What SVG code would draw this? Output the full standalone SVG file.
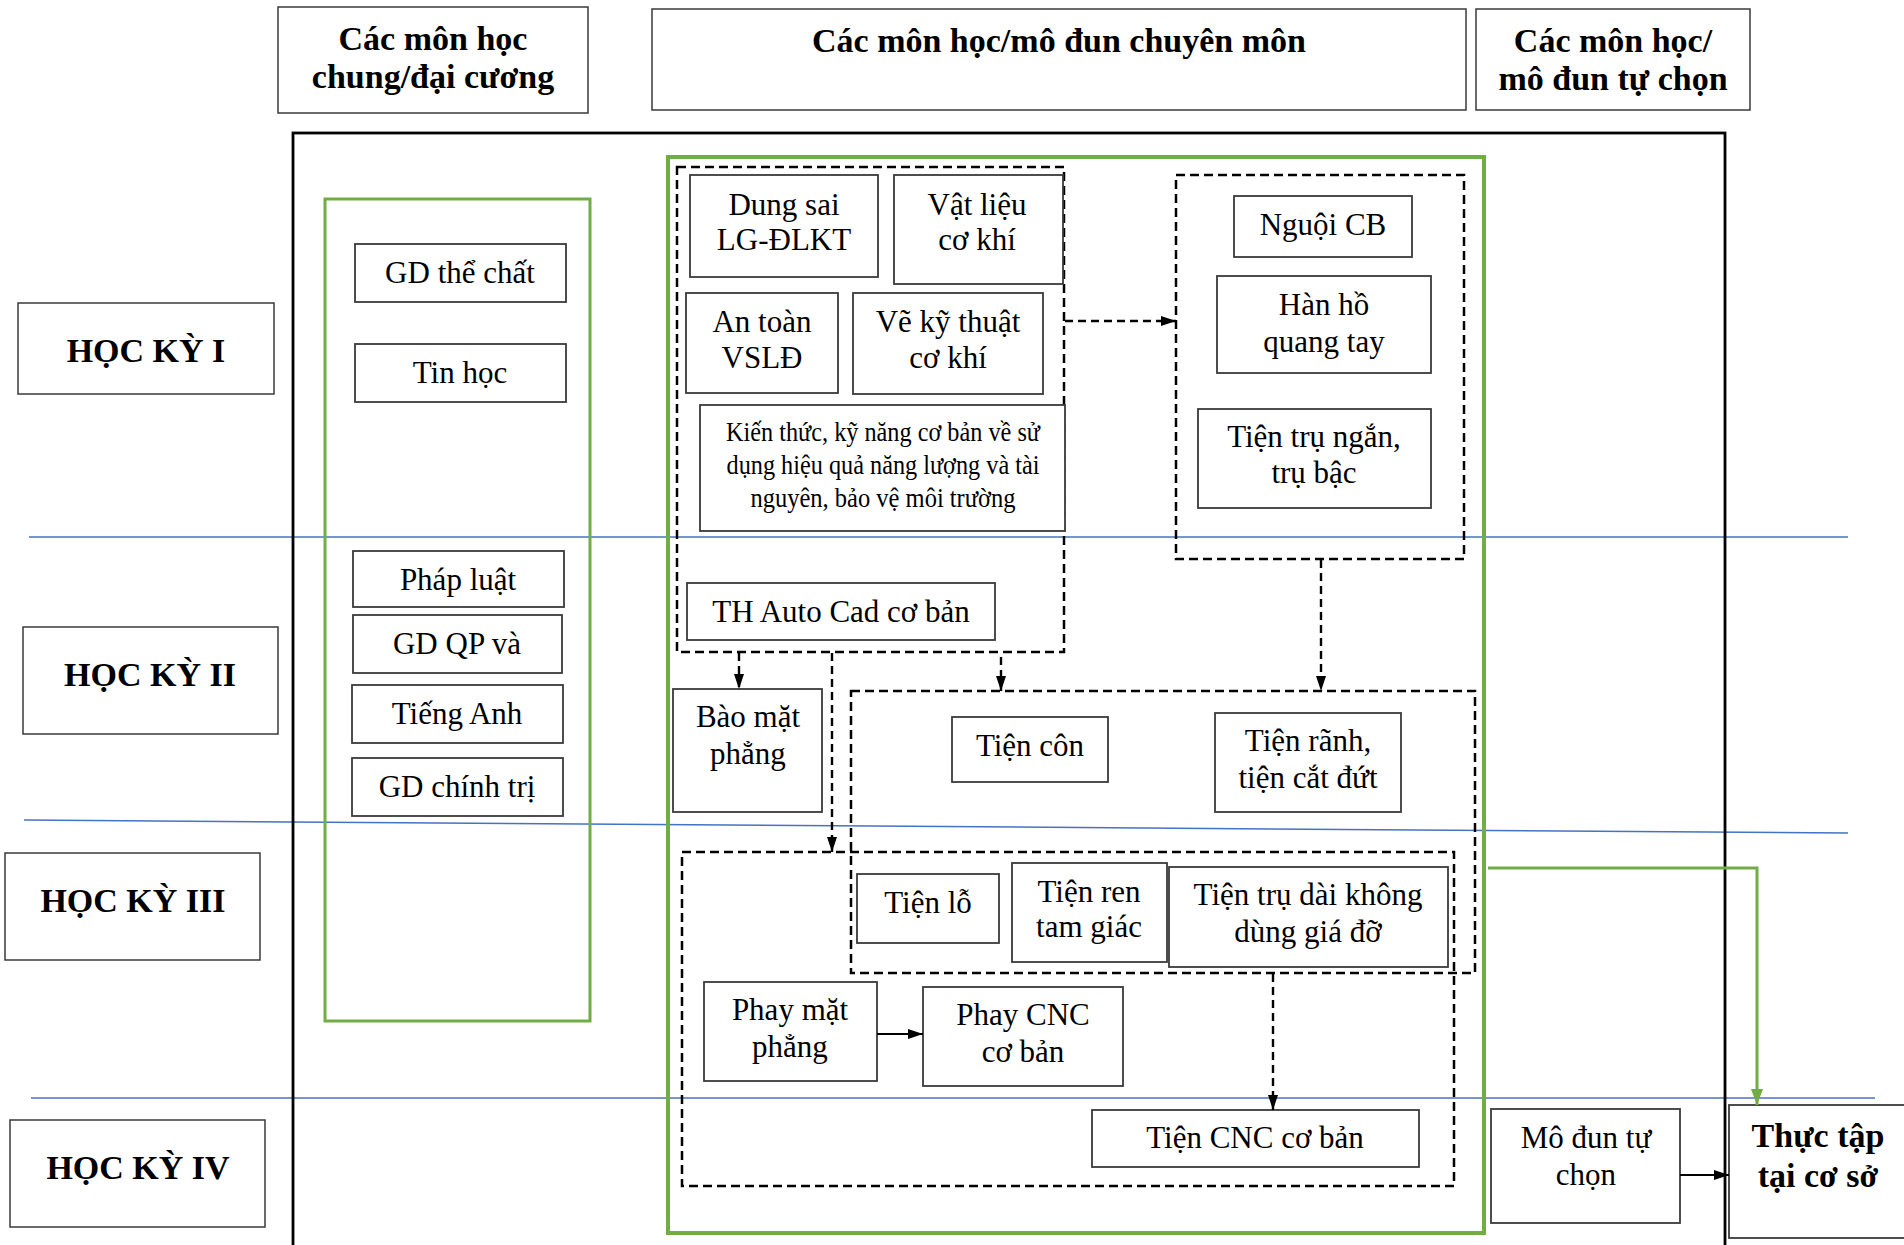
<svg xmlns="http://www.w3.org/2000/svg" width="1904" height="1245" viewBox="0 0 1904 1245">
<defs>
<style>
.hd{fill:#fff;stroke:#3a3a3a;stroke-width:1.5}
.nd{fill:#fff;stroke:#3a3a3a;stroke-width:1.8}
.t{font-family:"Liberation Serif","Times New Roman",serif;font-size:31px;fill:#000;text-anchor:middle}
.b{font-family:"Liberation Serif","Times New Roman",serif;font-size:34px;font-weight:bold;fill:#000;text-anchor:middle}
.k{font-family:"Liberation Serif","Times New Roman",serif;font-size:28px;fill:#000;text-anchor:middle}
.dash{fill:none;stroke:#000;stroke-width:2.5;stroke-dasharray:9 5}
.grn{fill:none;stroke:#70ad47}
.blue{stroke:#4472c4;stroke-width:1.5;fill:none}
.con{fill:none;stroke:#000;stroke-width:2.2}
.cond{fill:none;stroke:#000;stroke-width:2.4;stroke-dasharray:8 5}
</style>
<marker id="ah" viewBox="0 0 15 10" refX="15" refY="5" markerWidth="15" markerHeight="10" markerUnits="userSpaceOnUse" orient="auto">
<path d="M0,0 L15,5 L0,10 z" fill="#000"/>
</marker>
<marker id="ahg" viewBox="0 0 16 12" refX="16" refY="6" markerWidth="16" markerHeight="12" markerUnits="userSpaceOnUse" orient="auto">
<path d="M0,0 L16,6 L0,12 z" fill="#70ad47"/>
</marker>
</defs>
<rect width="1904" height="1245" fill="#fff"/>

<g id="semester-lines">
<line class="blue" x1="29" y1="537" x2="1848" y2="537"/>
<line class="blue" x1="24" y1="820" x2="1848" y2="833"/>
<line class="blue" x1="31" y1="1098" x2="1875" y2="1098"/>
</g>

<g id="frames">
<rect x="293" y="133" width="1432" height="1140" fill="none" stroke="#000" stroke-width="2.8"/>
<rect class="grn" x="325" y="199" width="265" height="822" stroke-width="3"/>
<rect class="grn" x="668" y="157" width="816" height="1076" stroke-width="4"/>
<rect class="dash" x="677" y="167" width="387" height="485"/>
<rect class="dash" x="1176" y="175" width="288" height="384"/>
<rect class="dash" x="851" y="691" width="624" height="282"/>
<rect class="dash" x="682" y="852" width="772" height="334"/>
</g>

<g id="header-chung"><rect class="hd" x="278" y="7" width="310" height="106"/><text class="b" x="433" y="50">Các môn học</text><text class="b" x="433" y="88">chung/đại cương</text></g>
<g id="header-chuyenmon"><rect class="hd" x="652" y="9" width="814" height="101"/><text class="b" x="1059" y="52">Các môn học/mô đun chuyên môn</text></g>
<g id="header-tuchon"><rect class="hd" x="1476" y="9" width="274" height="101"/><text class="b" x="1613" y="52">Các môn học/</text><text class="b" x="1613" y="90">mô đun tự chọn</text></g>

<g id="hk1"><rect class="hd" x="18" y="303" width="256" height="91"/><text class="b" x="146" y="362">HỌC KỲ I</text></g>
<g id="hk2"><rect class="hd" x="23" y="627" width="255" height="107"/><text class="b" x="150" y="686">HỌC KỲ II</text></g>
<g id="hk3"><rect class="hd" x="5" y="853" width="255" height="107"/><text class="b" x="133" y="912">HỌC KỲ III</text></g>
<g id="hk4"><rect class="hd" x="10" y="1120" width="255" height="107"/><text class="b" x="138" y="1179">HỌC KỲ IV</text></g>

<g id="gd-the-chat"><rect class="nd" x="355" y="244" width="211" height="58"/><text class="t" x="460" y="283">GD thể chất</text></g>
<g id="tin-hoc"><rect class="nd" x="355" y="344" width="211" height="58"/><text class="t" x="460" y="383">Tin học</text></g>
<g id="phap-luat"><rect class="nd" x="353" y="551" width="211" height="56"/><text class="t" x="458" y="590">Pháp luật</text></g>
<g id="gd-qp"><rect class="nd" x="353" y="615" width="209" height="58"/><text class="t" x="457" y="654">GD QP và</text></g>
<g id="tieng-anh"><rect class="nd" x="352" y="685" width="211" height="58"/><text class="t" x="457" y="724">Tiếng Anh</text></g>
<g id="gd-chinh-tri"><rect class="nd" x="352" y="758" width="211" height="58"/><text class="t" x="457" y="797">GD chính trị</text></g>

<g id="dung-sai"><rect class="nd" x="690" y="175" width="188" height="102"/><text class="t" x="784" y="215">Dung sai</text><text class="t" x="784" y="250">LG-ĐLKT</text></g>
<g id="vat-lieu"><rect class="nd" x="894" y="175" width="169" height="109"/><text class="t" x="977" y="215">Vật liệu</text><text class="t" x="977" y="250">cơ khí</text></g>
<g id="an-toan"><rect class="nd" x="686" y="293" width="152" height="100"/><text class="t" x="762" y="332">An toàn</text><text class="t" x="762" y="368">VSLĐ</text></g>
<g id="ve-ky-thuat"><rect class="nd" x="853" y="293" width="190" height="101"/><text class="t" x="948" y="332">Vẽ kỹ thuật</text><text class="t" x="948" y="368">cơ khí</text></g>
<g id="kien-thuc"><rect class="nd" x="700" y="405" width="365" height="126"/>
<text class="k" x="883" y="441" textLength="314" lengthAdjust="spacingAndGlyphs">Kiến thức, kỹ năng cơ bản về sử</text>
<text class="k" x="883" y="474" textLength="313" lengthAdjust="spacingAndGlyphs">dụng hiệu quả năng lượng và tài</text>
<text class="k" x="883" y="507" textLength="265" lengthAdjust="spacingAndGlyphs">nguyên, bảo vệ môi trường</text></g>
<g id="th-autocad"><rect class="nd" x="687" y="583" width="308" height="57"/><text class="t" x="841" y="622">TH Auto Cad cơ bản</text></g>

<g id="nguoi-cb"><rect class="nd" x="1234" y="196" width="178" height="61"/><text class="t" x="1323" y="235">Nguội CB</text></g>
<g id="han-ho"><rect class="nd" x="1217" y="276" width="214" height="97"/><text class="t" x="1324" y="315">Hàn hồ</text><text class="t" x="1324" y="352">quang tay</text></g>
<g id="tien-tru-ngan"><rect class="nd" x="1198" y="409" width="233" height="99"/><text class="t" x="1314" y="447">Tiện trụ ngắn,</text><text class="t" x="1314" y="483">trụ bậc</text></g>

<g id="bao-mat-phang"><rect class="nd" x="673" y="689" width="149" height="123"/><text class="t" x="748" y="727">Bào mặt</text><text class="t" x="748" y="764">phẳng</text></g>
<g id="tien-con"><rect class="nd" x="952" y="717" width="156" height="65"/><text class="t" x="1030" y="756">Tiện côn</text></g>
<g id="tien-ranh"><rect class="nd" x="1215" y="713" width="186" height="99"/><text class="t" x="1308" y="751">Tiện rãnh,</text><text class="t" x="1308" y="788">tiện cắt đứt</text></g>

<g id="tien-lo"><rect class="nd" x="857" y="874" width="142" height="69"/><text class="t" x="928" y="913">Tiện lỗ</text></g>
<g id="tien-ren"><rect class="nd" x="1012" y="863" width="155" height="99"/><text class="t" x="1089" y="902">Tiện ren</text><text class="t" x="1089" y="937">tam giác</text></g>
<g id="tien-tru-dai"><rect class="nd" x="1169" y="867" width="279" height="100"/><text class="t" x="1308" y="905">Tiện trụ dài không</text><text class="t" x="1308" y="942">dùng giá đỡ</text></g>
<g id="phay-mat-phang"><rect class="nd" x="704" y="982" width="173" height="99"/><text class="t" x="790" y="1020">Phay mặt</text><text class="t" x="790" y="1057">phẳng</text></g>
<g id="phay-cnc"><rect class="nd" x="923" y="987" width="200" height="99"/><text class="t" x="1023" y="1025">Phay CNC</text><text class="t" x="1023" y="1062">cơ bản</text></g>
<g id="tien-cnc"><rect class="nd" x="1092" y="1110" width="327" height="57"/><text class="t" x="1255" y="1148">Tiện CNC cơ bản</text></g>

<g id="mo-dun-tu-chon"><rect class="nd" x="1491" y="1109" width="189" height="114"/><text class="t" x="1586" y="1148">Mô đun tự</text><text class="t" x="1586" y="1185">chọn</text></g>
<g id="thuc-tap"><rect class="nd" x="1729" y="1105" width="190" height="133"/><text class="b" x="1818" y="1147">Thực tập</text><text class="b" x="1818" y="1187">tại cơ sở</text></g>

<g id="connectors">
<line class="cond" x1="1065" y1="321" x2="1176" y2="321" marker-end="url(#ah)"/>
<line class="cond" x1="1321" y1="560" x2="1321" y2="691" marker-end="url(#ah)"/>
<line class="cond" x1="739" y1="653" x2="739" y2="689" marker-end="url(#ah)"/>
<line class="cond" x1="1001" y1="657" x2="1001" y2="691" marker-end="url(#ah)"/>
<line class="cond" x1="832" y1="653" x2="832" y2="852" marker-end="url(#ah)"/>
<line class="cond" x1="1273" y1="974" x2="1273" y2="1110" marker-end="url(#ah)"/>
<line class="con" x1="877" y1="1034" x2="923" y2="1034" marker-end="url(#ah)"/>
<line class="con" x1="1680" y1="1175" x2="1729" y2="1175" marker-end="url(#ah)"/>
<polyline class="grn" stroke-width="3" points="1488,868 1757,868 1757,1105" marker-end="url(#ahg)"/>
</g>
</svg>
